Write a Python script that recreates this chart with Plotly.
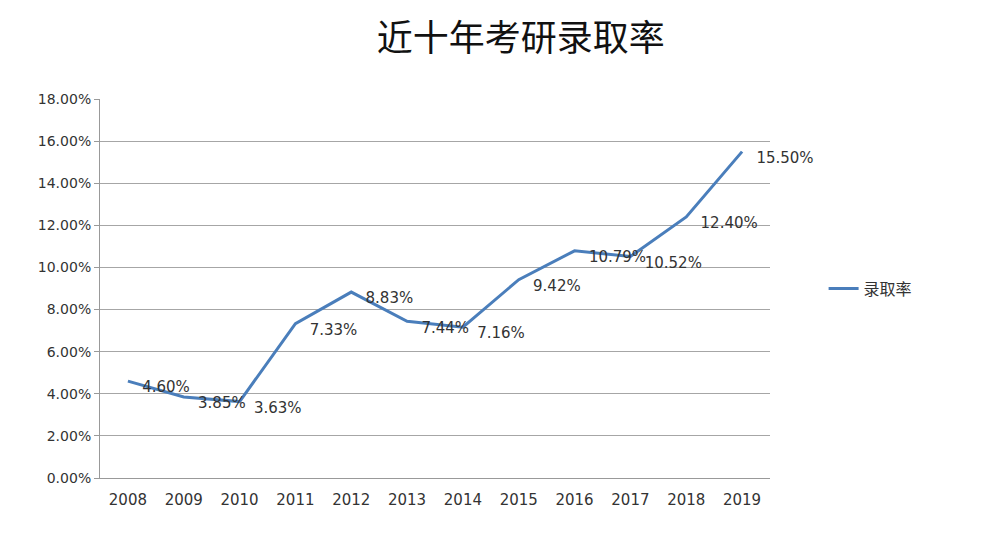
import plotly.graph_objects as go

years = [2008, 2009, 2010, 2011, 2012, 2013, 2014, 2015, 2016, 2017, 2018, 2019]
rates = [4.60, 3.85, 3.63, 7.33, 8.83, 7.44, 7.16, 9.42, 10.79, 10.52, 12.40, 15.50]
y_ticks = [0, 2, 4, 6, 8, 10, 12, 14, 16, 18]

fig = go.Figure()
fig.add_trace(go.Scatter(
    x=years, y=rates, mode="lines+text", name="录取率",
    line=dict(color="#4a7ebb", width=3),
    text=[f"   {v:.2f}%" for v in rates], textposition="bottom right",
    textfont=dict(size=15, color="#333333", family="DejaVu Sans"),
    cliponaxis=False,
))

fig.update_layout(
    width=986, height=534,
    paper_bgcolor="white", plot_bgcolor="white",
    margin=dict(l=92, r=224, t=91, b=64),
    title=dict(text="近十年考研录取率", x=0.52, y=0.944, xanchor="center", yanchor="middle",
               font=dict(size=36, color="#111111", family="Noto Sans CJK SC")),
    font=dict(family="DejaVu Sans", size=14, color="#333333"),
    legend=dict(x=1.08, y=0.5, yanchor="middle", font=dict(size=16, family="Noto Sans CJK SC")),
    showlegend=True,
)
fig.update_xaxes(range=[2007.5, 2019.5], tickvals=years, ticktext=[str(y) for y in years],
                 showgrid=False, showline=True, linecolor="#999999",
                 ticks="outside", ticklen=8, tickcolor="white", tickfont=dict(size=15))
fig.update_yaxes(range=[0, 18], tickvals=y_ticks, ticktext=[f"{v:.2f}%" for v in y_ticks],
                 showgrid=True, gridcolor="#a6a6a6", gridwidth=1, zeroline=False,
                 showline=True, linecolor="#999999", ticks="outside", ticklen=5,
                 tickcolor="#999999", tickfont=dict(size=14))

fig.write_html("out.html")
